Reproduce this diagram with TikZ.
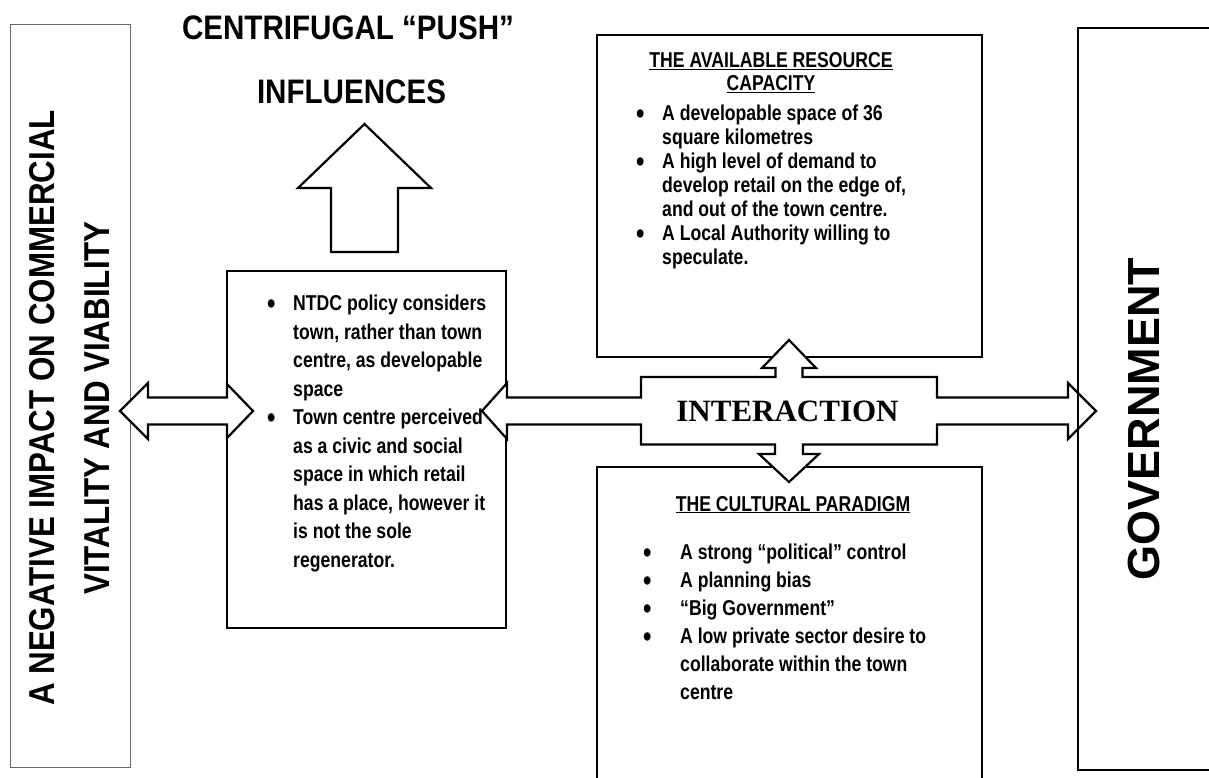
\documentclass[tikz,border=0pt]{standalone}
\usepackage{fontspec}
\setmainfont{Liberation Sans}
\newfontfamily\nar{Liberation Sans}[FakeStretch=0.82]
\newfontfamily\narh{Liberation Sans}[FakeStretch=0.87]
\newfontfamily\serifb{Liberation Serif}
\newcommand\mybul[1][24pt]{\makebox[#1][l]{\raisebox{-2.6pt}{\fontsize{29}{29}\selectfont\textbullet}}}
\newcommand\myind[1][24pt]{\hspace*{#1}}
\begin{document}
\begin{tikzpicture}[x=1pt,y=-1pt,
  box/.style={draw, line width=2.4pt, inner sep=0pt},
  blk/.style={draw, line width=2.2pt, fill=white, line join=miter},
  bodytext/.style={font=\nar\bfseries\fontsize{21.5}{#1}\selectfont, align=left, inner sep=0pt, anchor=north west},
  headtext/.style={font=\nar\bfseries\fontsize{21.5}{23}\selectfont, align=center, inner sep=0pt},
  bigtext/.style={font=\narh\bfseries\fontsize{34}{40}\selectfont, inner sep=0pt, anchor=base}
]
\useasboundingbox (0,0) rectangle (1209,777);
\clip (0,0) rectangle (1209,777);

% boxes
\node[draw=black!60, line width=0.9pt, minimum width=120, minimum height=743, inner sep=0pt] (neg) at (70,395.5) {};
\node[box, minimum width=279, minimum height=357] (ntdc) at (366.5,449.5) {};
\node[box, minimum width=385, minimum height=322] (res) at (789.5,196) {};
\node[box, minimum width=385, minimum height=333] (cult) at (789.5,633.5) {};

% interaction block arrow
\draw[blk] (482,411) -- (507,383) -- (507,397.5) -- (641,397.5) -- (641,377)
  -- (775.5,377) -- (775.5,368) -- (762,368) -- (789,340) -- (816,368) -- (802.5,368) -- (802.5,377)
  -- (937,377) -- (937,397.5) -- (1068,397.5) -- (1068,383) -- (1096,411) -- (1068,439) -- (1068,424.5)
  -- (937,424.5) -- (937,444.5) -- (803,444.5) -- (803,454) -- (819,454) -- (789,482) -- (759,454)
  -- (775,454) -- (775,444.5) -- (641,444.5) -- (641,424.5) -- (507,424.5) -- (507,439) -- cycle;

\node[box, line width=2pt, minimum width=162, minimum height=742] (gov) at (1159,399) {};

% left double arrow
\draw[blk] (120,411) -- (148,383) -- (148,397.5) -- (227,397.5) -- (227,384) -- (253,411)
  -- (227,438) -- (227,424.5) -- (148,424.5) -- (148,439) -- cycle;

% centrifugal up arrow
\draw[blk] (331,252) -- (331,188) -- (298,188) -- (364.5,124) -- (431,188) -- (398,188) -- (398,252) -- cycle;

% texts
\node[bigtext] (push) at (348,39) {CENTRIFUGAL “PUSH”};
\node[bigtext] (infl) at (351.5,103) {INFLUENCES};

\node[rotate=90, font=\narh\bfseries\fontsize{36}{55}\selectfont, align=center, inner sep=0pt] (negtxt) at (69.5,408)
  {A NEGATIVE IMPACT ON COMMERCIAL\\VITALITY AND VIABILITY};

\node[rotate=90, font=\bfseries\fontsize{45}{45}\selectfont, inner sep=0pt] (govtxt) at (1143.5,419) {GOVERNMENT};

\node[font=\serifb\bfseries\fontsize{31}{31}\selectfont, inner sep=0pt] (inter) at (787.5,411) {INTERACTION};

\node[bodytext=28.5] (ntdctxt) at (267,295) {\mybul[26pt]NTDC policy considers\\
\myind[26pt]town, rather than town\\
\myind[26pt]centre, as developable\\
\myind[26pt]space\\
\mybul[26pt]Town centre perceived\\
\myind[26pt]as a civic and social\\
\myind[26pt]space in which retail\\
\myind[26pt]has a place, however it\\
\myind[26pt]is not the sole\\
\myind[26pt]regenerator.};

\node[headtext, anchor=north] (reshead) at (771,52) {\underline{THE AVAILABLE RESOURCE}\\\underline{CAPACITY}};
\node[bodytext=24] (restxt) at (636,105) {\mybul[26pt]A developable space of 36\\
\myind[26pt]square kilometres\\
\mybul[26pt]A high level of demand to\\
\myind[26pt]develop retail on the edge of,\\
\myind[26pt]and out of the town centre.\\
\mybul[26pt]A Local Authority willing to\\
\myind[26pt]speculate.};

\node[headtext, anchor=base] (culthead) at (793,511) {\underline{THE CULTURAL PARADIGM}};
\node[bodytext=28] (culttxt) at (643,544) {\mybul[37pt]A strong “political” control\\
\mybul[37pt]A planning bias\\
\mybul[37pt]“Big Government”\\
\mybul[37pt]A low private sector desire to\\
\myind[37pt]collaborate within the town\\
\myind[37pt]centre};
\end{tikzpicture}
\end{document}
